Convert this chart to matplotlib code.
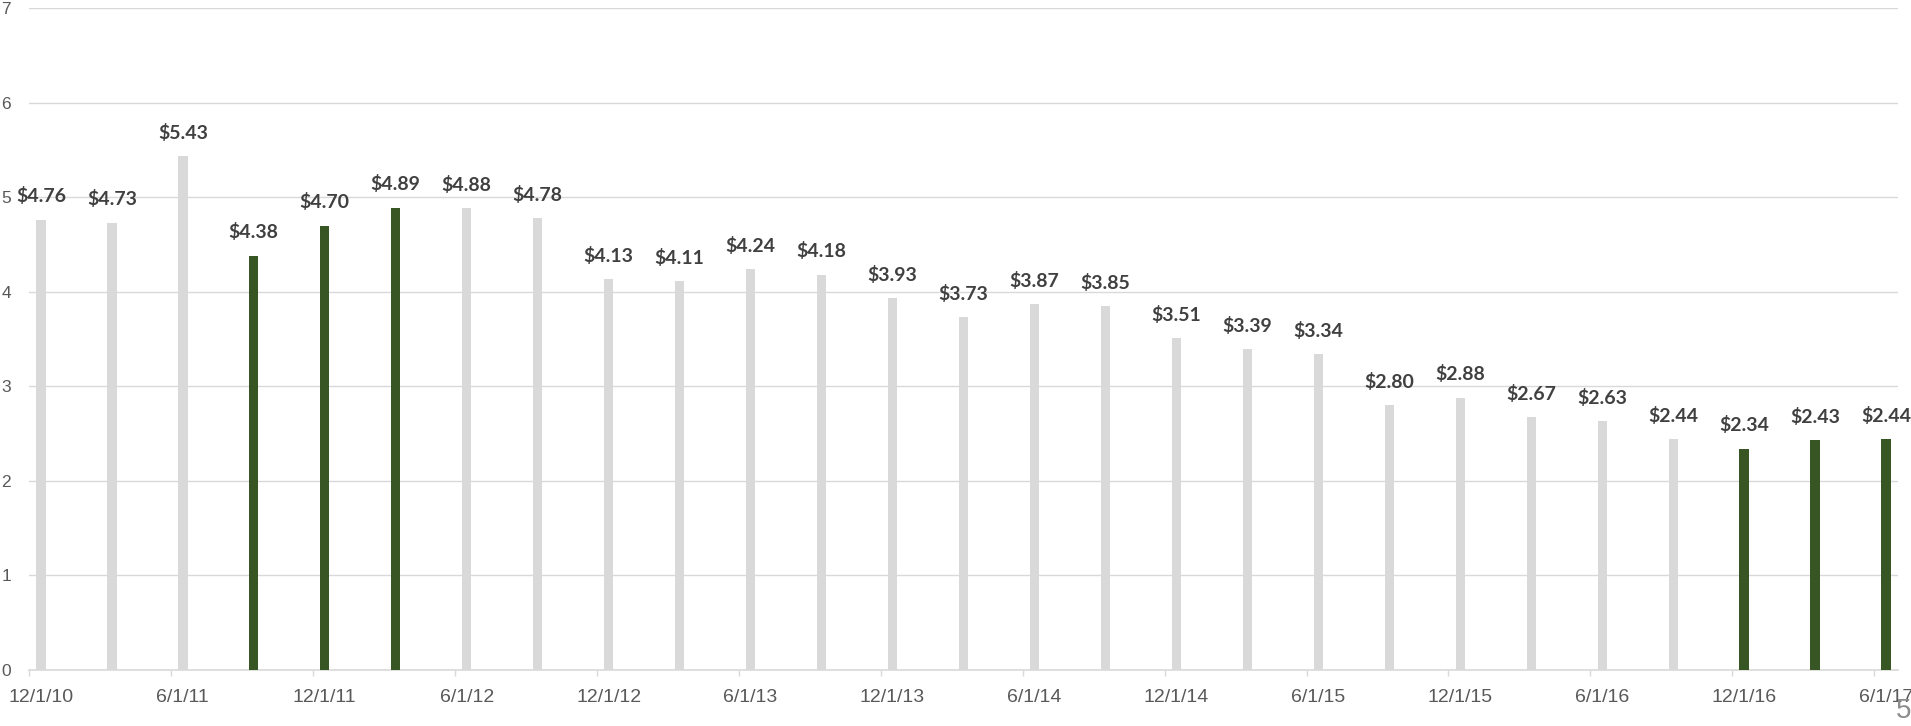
import pandas as pd
import matplotlib.pyplot as plt

# quarterly observations
dates = ['12/1/10', '3/1/11', '6/1/11', '9/1/11', '12/1/11', '3/1/12', '6/1/12',
         '9/1/12', '12/1/12', '3/1/13', '6/1/13', '9/1/13', '12/1/13', '3/1/14',
         '6/1/14', '9/1/14', '12/1/14', '3/1/15', '6/1/15', '9/1/15', '12/1/15',
         '3/1/16', '6/1/16', '9/1/16', '12/1/16', '3/1/17', '6/1/17']
values = [4.76, 4.73, 5.43, 4.38, 4.70, 4.89, 4.88, 4.78, 4.13, 4.11, 4.24,
          4.18, 3.93, 3.73, 3.87, 3.85, 3.51, 3.39, 3.34, 2.80, 2.88, 2.67,
          2.63, 2.44, 2.34, 2.43, 2.44]
highlighted = ['9/1/11', '12/1/11', '3/1/12', '12/1/16', '3/1/17', '6/1/17']
tick_labels = ['12/1/10', '6/1/11', '12/1/11', '6/1/12', '12/1/12', '6/1/13',
               '12/1/13', '6/1/14', '12/1/14', '6/1/15', '12/1/15', '6/1/16',
               '12/1/16', '6/1/17']

GREY = '#d9d9d9'
GREEN = '#375623'


def month_index(labels, start):
    """months elapsed since start for each m/d/yy label"""
    d = pd.to_datetime(labels, format='%m/%d/%y')
    s = pd.to_datetime(start, format='%m/%d/%y')
    return [(x.year - s.year) * 12 + (x.month - s.month) for x in d]


x = month_index(dates, dates[0])
xt = month_index(tick_labels, dates[0])
n_months = x[-1] + 1

fig = plt.figure(figsize=(19.11, 7.26), dpi=100)
ax = fig.add_axes([29 / 1911, 56 / 726, 1869 / 1911, 662 / 726])

colors = [GREEN if d in highlighted else GREY for d in dates]
# each month is one slot on the date axis, bars sit mid-slot
centers = [m + 0.5 for m in x]
ax.bar(centers, values, width=0.4, color=colors, zorder=3)

for cx, v in zip(centers, values):
    ax.annotate(f'${v:.2f}', (cx, v), xytext=(0, 12.5), textcoords='offset points',
                ha='center', va='baseline', fontsize=14, fontweight='bold',
                family='Lato', color='#404040', zorder=4)

ax.set_xlim(0, n_months)
ax.set_ylim(0, 7)
# tick marks on slot edges, labels in the middle of the slot
ax.set_xticks(xt)
ax.set_xticklabels([])
ax.set_xticks([m + 0.5 for m in xt], minor=True)
ax.set_xticklabels(tick_labels, minor=True, family='Liberation Sans', fontsize=14,
                   color='#595959')
ax.set_yticks(range(0, 8))
ax.set_yticklabels([str(i) for i in range(0, 8)], family='Liberation Sans',
                   fontsize=12.5, color='#595959')
ax.tick_params(axis='x', which='major', length=4, width=1, color=GREY)
ax.tick_params(axis='x', which='minor', length=0, pad=14)
ax.tick_params(axis='y', length=0, pad=13)

ax.grid(axis='y', color=GREY, lw=1, zorder=0)
for side in ['top', 'right', 'left']:
    ax.spines[side].set_visible(False)
ax.spines['bottom'].set_color(GREY)
ax.spines['bottom'].set_linewidth(1.2)

# slide number
fig.text(1904 / 1911, 2 / 726, '5', ha='center', va='bottom', fontsize=20,
         family='Liberation Sans', color='#8c8c8c')

fig.savefig('out.png', dpi=100)
